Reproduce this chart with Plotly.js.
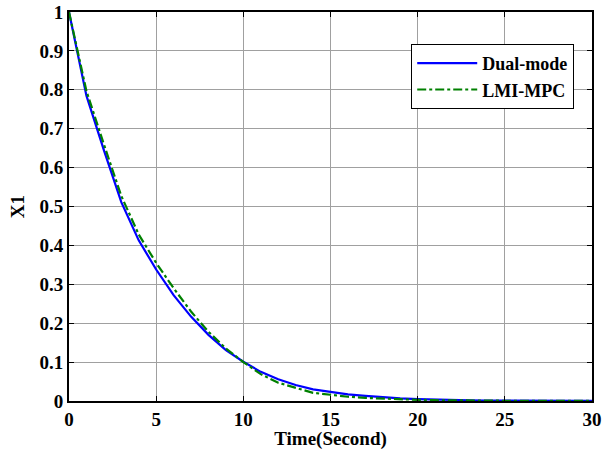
<!DOCTYPE html>
<html>
<head>
<meta charset="utf-8">
<script src="https://cdn.plot.ly/plotly-3.0.1.min.js"></script>
<style>html,body{margin:0;padding:0;background:#fff;}#chart{width:603px;height:450px;}</style>
</head>
<body>
<div id="chart"></div>
<script>
var time = [0,1,2,3,4,5,6,7,8,9,10,11,12,13,14,15,16,17,18,19,20,21,22,23,24,25,26,27,28,29,30];
var dualMode = [1,0.785,0.645,0.511,0.413,0.338,0.272,0.217,0.17,0.131,0.101,0.075,0.056,0.041,0.030,0.024,0.017,0.013,0.0095,0.007,0.005,0.0035,0.0025,0.0018,0.0013,0.001,0.0007,0.0005,0.0004,0.0003,0.0002];
var lmiMpc = [1,0.797,0.66,0.527,0.428,0.355,0.29,0.23,0.178,0.135,0.1,0.069,0.047,0.033,0.021,0.016,0.011,0.008,0.006,0.004,0.003,0.002,0.0013,0.0009,0.0006,0.0004,0.0003,0.0002,0.0001,0.0001,0.0001];
var xTicks = [0,5,10,15,20,25,30];
var yTicks = [0,0.1,0.2,0.3,0.4,0.5,0.6,0.7,0.8,0.9,1];
var seriesNames = ['Dual-mode','LMI-MPC'];

var fam = 'Liberation Serif';

var traces = [
  {x: time, y: dualMode, name: seriesNames[0], mode:'lines', line:{color:'#0000ff', width:2.2}},
  {x: time, y: lmiMpc, name: seriesNames[1], mode:'lines', line:{color:'#008000', width:2.2, dash:'dashdot'}}
];

function f(sz){ return {family:fam, size:sz, color:'#000', weight:'bold'}; }

var layout = {
  width:603, height:450,
  margin:{l:69, r:11, t:12, b:49},
  paper_bgcolor:'#fff', plot_bgcolor:'#fff',
  font: f(19),
  showlegend:true,
  legend:{x:0.966, y:0.918, xanchor:'right', yanchor:'top', bgcolor:'#fff', bordercolor:'#000', borderwidth:1,
    font:f(18), itemwidth:60, tracegroupgap:0},
  xaxis:{range:[0,30], tickvals:xTicks, ticktext:xTicks.map(String), showgrid:true, gridcolor:'#a0a0a0', gridwidth:1,
    zeroline:false, showline:true, linecolor:'#000', linewidth:2, mirror:'ticks', ticks:'inside', ticklen:5, tickcolor:'#000',
    tickfont:f(19),
    title:{text:'Time(Second)', font:f(19), standoff:0}},
  yaxis:{range:[0,1], tickvals:yTicks, ticktext:yTicks.map(String), showgrid:true, gridcolor:'#a0a0a0', gridwidth:1,
    zeroline:false, showline:true, linecolor:'#000', linewidth:2, mirror:'ticks', ticks:'inside', ticklen:5, tickcolor:'#000',
    tickfont:f(19),
    title:{text:'X1', font:f(19), standoff:10}}
};

Plotly.newPlot('chart', traces, layout, {displayModeBar:false, staticPlot:true});
</script>
</body>
</html>
